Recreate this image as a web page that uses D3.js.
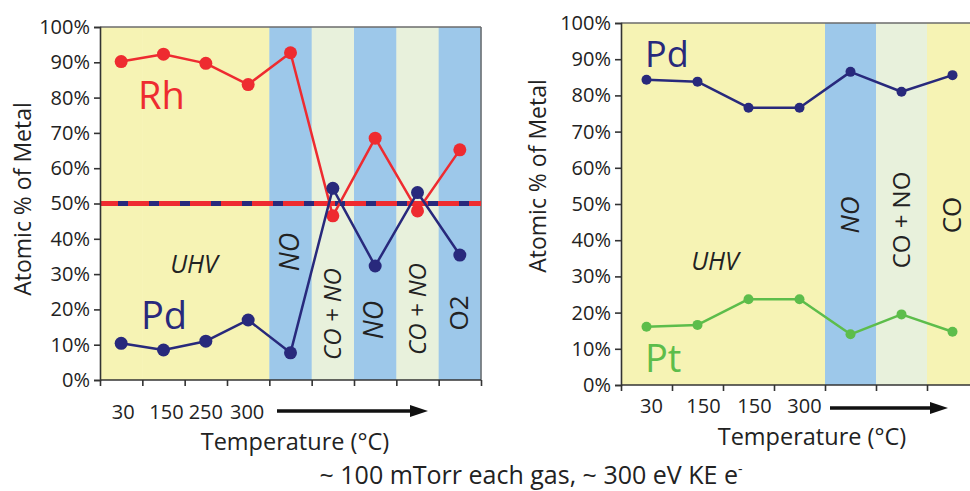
<!DOCTYPE html>
<html><head><meta charset="utf-8">
<script src="https://cdn.jsdelivr.net/npm/d3@7"></script>
<style>body{margin:0;background:#fff}svg{display:block;font-family:"Open Sans",sans-serif}</style>
</head><body><svg id="c" width="970" height="491"></svg>
<script>
// ---- data ----
const leftCategories = ["30","150","250","300","a","b","c","d","e"];
const leftTickLabels = ["30","150","250","300","","","","",""];
const leftConditions = ["UHV","UHV","UHV","UHV","NO","CO + NO","NO","CO + NO","O2"];
const rhValues = [90.2,92.3,89.7,83.7,92.7,46.5,68.5,47.9,65.2];
const pdLeftValues = [10.4,8.5,11.0,17.0,7.7,54.3,32.3,53.1,35.4];

const rightCategories = ["30","150a","150b","300","a","b","c"];
const rightTickLabels = ["30","150","150","300","","",""];
const rightConditions = ["UHV","UHV","UHV","UHV","NO","CO + NO","CO"];
const pdRightValues = [84.3,83.8,76.6,76.6,86.5,81.0,85.6];
const ptValues = [16.1,16.6,23.7,23.7,14.0,19.5,14.7];

const yTickValues = [0,10,20,30,40,50,60,70,80,90,100];
const referenceLine = 50;

const condColors = {"UHV":"#f6f3b4","NO":"#9dc8ea","CO + NO":"#e8f1dc","O2":"#9dc8ea","CO":"#f6f3b4"};
const RED = "#ee2b30", NAVY = "#28297c", GREEN = "#5dbd4b";

const svg = d3.select("#c");

function drawPanel(o) {
  const g = svg.append("g");
  const x = d3.scaleBand().domain(o.cats).range([o.x0, o.x1]).padding(0);
  const y = d3.scaleLinear().domain([0,100]).range([o.yBot, o.yTop]);
  const bw = x.bandwidth();

  // bands
  g.selectAll("rect.band").data(o.cats).join("rect")
    .attr("x", d => x(d)).attr("y", o.yTop).attr("width", bw + 0.5).attr("height", o.yBot - o.yTop)
    .attr("fill", (d,i) => condColors[o.conds[i]]);

  // frame
  g.append("line").attr("x1", o.x0).attr("x2", o.frameRight).attr("y1", o.yTop).attr("y2", o.yTop)
    .attr("stroke", "#6b6b6b").attr("stroke-width", 1.5);
  if (o.rightFrame) g.append("line").attr("x1", o.x1).attr("x2", o.x1).attr("y1", o.yTop).attr("y2", o.yBot)
    .attr("stroke", "#6b6b6b").attr("stroke-width", 1.5);

  // band labels (group consecutive)
  const groups = [];
  o.conds.forEach((c,i) => {
    if (groups.length && groups[groups.length-1].c === c) groups[groups.length-1].end = i;
    else groups.push({c, start:i, end:i});
  });
  groups.forEach((gr, k) => {
    const cx = (x(o.cats[gr.start]) + x(o.cats[gr.end]) + bw) / 2;
    const lab = o.bandLabels[k];
    if (gr.c === "UHV") {
      g.append("text").attr("x", lab.x).attr("y", lab.y).attr("text-anchor","middle")
        .attr("font-size", 25).attr("font-style","italic").attr("fill","#222").text("UHV");
    } else {
      const t = g.append("text").attr("transform", `translate(${cx + 8},${lab.y}) rotate(-90)`)
        .attr("text-anchor","middle").attr("font-size", lab.fs || 24).attr("font-style", lab.italic ? "italic" : "normal")
        .attr("fill","#222");
      t.text(gr.c);
    }
  });

  // reference line
  if (o.ref) {
    g.append("line").attr("x1", o.x0).attr("x2", o.x1).attr("y1", y(referenceLine)).attr("y2", y(referenceLine))
      .attr("stroke", RED).attr("stroke-width", 5);
    g.append("line").attr("x1", o.x0).attr("x2", o.x1).attr("y1", y(referenceLine)).attr("y2", y(referenceLine))
      .attr("stroke", NAVY).attr("stroke-width", 5).attr("stroke-dasharray","10,21").attr("stroke-dashoffset", 13);
  }

  // series
  o.series.forEach(s => {
    const line = d3.line().x((d,i) => x(o.cats[i]) + bw/2).y(d => y(d));
    g.append("path").datum(s.values).attr("d", line).attr("fill","none")
      .attr("stroke", s.color).attr("stroke-width", s.lw).attr("stroke-linejoin","round");
    g.selectAll(null).data(s.values).join("circle")
      .attr("cx", (d,i) => x(o.cats[i]) + bw/2).attr("cy", d => y(d)).attr("r", s.r).attr("fill", s.color);
    g.append("text").attr("x", s.lx).attr("y", s.ly).attr("font-size", s.fs).attr("fill", s.color).text(s.name);
  });

  // y axis
  const ya = d3.axisLeft(y).tickValues(yTickValues).tickFormat(d => d + "%").tickSize(6).tickPadding(4);
  const yg = g.append("g").attr("transform", `translate(${o.x0},0)`).call(ya);
  yg.select(".domain").attr("stroke","#333").attr("stroke-width",1.6);
  yg.selectAll(".tick line").attr("stroke","#333").attr("stroke-width",1.6);
  yg.selectAll(".tick text").attr("font-size", 20).attr("fill","#222").attr("font-family","Open Sans");

  // x axis boundary ticks
  const xl = d3.scaleLinear().domain([0, o.cats.length]).range([o.x0, o.x1]);
  const xa = d3.axisBottom(xl).tickValues(d3.range(0, o.cats.length + 1)).tickFormat("").tickSize(6).tickSizeOuter(0);
  const xg = g.append("g").attr("transform", `translate(0,${o.yBot})`).call(xa);
  xg.select(".domain").attr("stroke","#333").attr("stroke-width",1.6).attr("d", `M${o.x0},0H${o.frameRight}`);
  xg.selectAll(".tick line").attr("stroke","#333").attr("stroke-width",1.6);

  // category labels
  g.selectAll(null).data(o.cats.filter((d,i) => o.tickLabels[i] !== "")).join("text")
    .attr("x", (d,i) => x(d) + bw/2 + o.labDx[i]).attr("y", o.labY).attr("text-anchor","middle")
    .attr("font-size", 20).attr("fill","#222").text((d,i) => o.tickLabels[i]);

  // arrow
  g.append("line").attr("x1", o.arrow[0]).attr("x2", o.arrow[1] - 14).attr("y1", o.arrowY).attr("y2", o.arrowY)
    .attr("stroke","#111").attr("stroke-width", 3.5);
  g.append("path").attr("d", `M${o.arrow[1]},${o.arrowY} L${o.arrow[1]-18},${o.arrowY-6} L${o.arrow[1]-18},${o.arrowY+6} Z`)
    .attr("fill","#111");

  // axis titles
  g.append("text").attr("x", o.xTitle[0]).attr("y", o.xTitle[1]).attr("text-anchor","middle")
    .attr("font-size", 23.5).attr("fill","#222").text("Temperature (°C)");
  g.append("text").attr("transform", `translate(${o.yTitle[0]},${o.yTitle[1]}) rotate(-90)`).attr("text-anchor","middle")
    .attr("font-size", 23).attr("fill","#222").text("Atomic % of Metal");
}

drawPanel({
  x0: 100, x1: 481, frameRight: 481, rightFrame: true, yTop: 27, yBot: 380,
  cats: leftCategories, tickLabels: leftTickLabels, conds: leftConditions, ref: true,
  bandLabels: [{x:194,y:273},{y:252,italic:true,fs:27},{y:314,italic:true},{y:320,italic:true,fs:27},{y:309,italic:true},{y:313,fs:26}],
  series: [
    {name:"Rh", values: rhValues, color: RED, r: 6.5, lw: 2.5, lx: 138, ly: 109, fs: 38},
    {name:"Pd", values: pdLeftValues, color: NAVY, r: 6.5, lw: 2.5, lx: 141, ly: 329, fs: 38}
  ],
  labDx: [2,3,0,-1], labY: 419,
  arrow: [277, 428], arrowY: 411,
  xTitle: [295, 450], yTitle: [31, 199]
});

drawPanel({
  x0: 621, x1: 978, frameRight: 970, rightFrame: false, yTop: 23, yBot: 385,
  cats: rightCategories, tickLabels: rightTickLabels, conds: rightConditions, ref: false,
  bandLabels: [{x:715,y:270},{y:215,italic:true,fs:26},{y:220,italic:false},{y:215,fs:26}],
  series: [
    {name:"Pd", values: pdRightValues, color: NAVY, r: 5, lw: 2.5, lx: 645, ly: 67, fs: 36},
    {name:"Pt", values: ptValues, color: GREEN, r: 5, lw: 2.5, lx: 645, ly: 372, fs: 38}
  ],
  labDx: [5,6,6,5], labY: 413,
  arrow: [830, 948], arrowY: 408,
  xTitle: [812, 445], yTitle: [546, 176]
});

// caption
const cap = svg.append("text").attr("x", 531).attr("y", 484).attr("text-anchor","middle")
  .attr("font-size", 25).attr("fill","#222");
cap.append("tspan").text("~ 100 mTorr each gas, ~ 300 eV KE e");
cap.append("tspan").attr("dy", -10).attr("font-size", 14).text("-");
</script></body></html>
